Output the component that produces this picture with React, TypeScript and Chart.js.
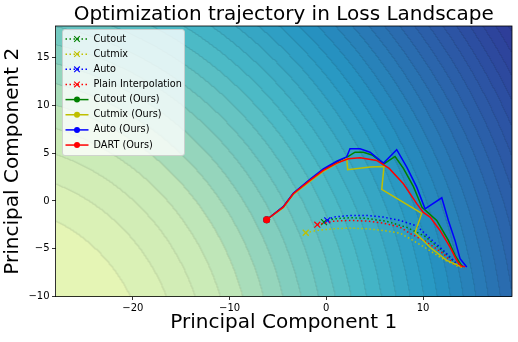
import React, { useEffect, useRef } from "react";
import { Chart, registerables } from "chart.js";

Chart.register(...registerables);

// ---------- data ----------
const TITLE = "Optimization trajectory in Loss Landscape";
const X_TITLE = "Principal Component 1";
const Y_TITLE = "Principal Component 2";
const X_TICKS = [-20, -10, 0, 10];
const Y_TICKS = [-10, -5, 0, 5, 10, 15];
const X_MIN = -28;
const X_MAX = 19.2;
const Y_MIN = -10;
const Y_MAX = 18.3;

const SERIES_LABELS = [
  "Cutout",
  "Cutmix",
  "Auto",
  "Plain Interpolation",
  "Cutout (Ours)",
  "Cutmix (Ours)",
  "Auto (Ours)",
  "DART (Ours)",
];
const SERIES_COLORS = ["#008000", "#bfbf00", "#0000ff", "#ff0000", "#008000", "#bfbf00", "#0000ff", "#ff0000"];

const cutoutPts = [
  [-0.24, -2.22], [0.72, -1.88], [2.45, -1.76], [4.18, -1.83], [6.25, -2.14], [8.32, -2.77],
  [10.21, -3.71], [12.07, -5.28], [13.42, -6.54], [14.14, -6.9],
];
const cutmixPts = [
  [-2.13, -3.33], [-0.99, -3.09], [0.72, -2.91], [2.45, -2.85], [4.18, -2.91], [5.9, -3.09],
  [7.62, -3.37], [8.66, -3.95], [10.39, -5.0], [12.1, -6.1], [13.49, -6.8], [14.17, -6.99],
];
const autoPts = [
  [0.1, -2.04], [0.72, -1.69], [2.45, -1.52], [4.18, -1.52], [5.9, -1.69], [7.62, -2.04],
  [9.35, -2.62], [10.39, -3.61], [12.1, -5.18], [13.49, -6.57], [14.35, -6.92],
];
const plainPts = [
  [-0.93, -2.49], [0.72, -2.12], [2.45, -2.04], [4.18, -2.11], [5.9, -2.32], [7.62, -2.74],
  [8.66, -3.4], [10.39, -4.31], [12.1, -5.52], [13.14, -6.57], [14.0, -6.92],
];
const cutoutOursPts = [
  [-6.17, -1.97], [-4.45, -0.62], [-3.41, 0.78], [-1.69, 2.2], [-0.31, 3.25], [1.08, 4.05],
  [2.1, 4.55], [2.97, 5.1], [3.83, 5.1], [4.73, 4.81], [5.97, 3.89], [7.11, 4.65], [7.97, 3.4],
  [9.0, 1.52], [9.9, -0.68], [11.42, -2.04], [12.62, -4.13], [13.31, -5.7], [14.04, -6.85],
];
const cutmixOursPts = [
  [-6.17, -1.97], [-4.45, -0.7], [-3.41, 0.68], [-1.69, 2.05], [-0.31, 3.1], [1.08, 3.9],
  [2.11, 4.45], [2.21, 3.26], [4.52, 3.56], [5.97, 3.61], [5.73, 1.2], [9.87, -1.31],
  [9.18, -3.3], [10.9, -5.0], [12.45, -6.22], [14.04, -6.92],
];
const autoOursPts = [
  [-6.17, -1.97], [-4.45, -0.6], [-3.41, 0.8], [-1.69, 2.25], [-0.31, 3.35], [1.08, 4.15],
  [2.1, 4.6], [2.45, 5.46], [3.49, 5.46], [4.52, 5.1], [5.9, 3.95], [7.28, 5.36], [8.32, 3.54],
  [9.35, 1.44], [10.21, -0.82], [11.94, 0.33], [12.62, -2.04], [13.31, -4.13], [13.83, -6.05],
  [14.52, -6.92],
];
const dartOursPts = [
  [-6.17, -1.97], [-4.45, -0.65], [-3.41, 0.75], [-1.69, 2.14], [-0.31, 3.19], [1.08, 3.95],
  [2.28, 4.41], [3.49, 4.52], [5.21, 4.24], [6.5, 3.4], [7.97, 1.8], [9.35, -0.29],
  [10.03, -1.2], [10.73, -1.69], [11.76, -3.09], [12.79, -4.83], [13.49, -6.22], [13.9, -6.8],
  [14.35, -6.9],
];
const SERIES_POINTS = [cutoutPts, cutmixPts, autoPts, plainPts, cutoutOursPts, cutmixOursPts, autoOursPts, dartOursPts];

// ---------- landscape (background) ----------
const LAND_CENTER = [-35, -18];
const LAND_YSCALE = 0.95;
const LAND_BAND_POWER = 1.6;
const LAND_STEP = 0.032;
const LAND_COLOR_T = [0, 0.29, 0.42, 0.7, 1];
const LAND_COLOR_V = [0.12, 0.26, 0.39, 0.64, 0.88];
const YLGNBU = [
  [255, 255, 217], [237, 248, 177], [199, 233, 180], [127, 205, 187], [65, 182, 196],
  [29, 145, 192], [34, 94, 168], [37, 52, 148], [8, 29, 88],
];

function cmap(v: number) {
  const t = Math.max(0, Math.min(1, v)) * 8;
  const i = Math.min(7, Math.floor(t));
  const f = t - i;
  const a = YLGNBU[i], b = YLGNBU[i + 1];
  const w = 0.04;
  return [
    (a[0] + (b[0] - a[0]) * f) * (1 - w) + 255 * w,
    (a[1] + (b[1] - a[1]) * f) * (1 - w) + 255 * w,
    (a[2] + (b[2] - a[2]) * f) * (1 - w) + 255 * w,
  ];
}
function colorValue(t: number) {
  const tt = Math.max(0, Math.min(1, t));
  for (let i = 0; i < LAND_COLOR_T.length - 1; i++) {
    if (tt <= LAND_COLOR_T[i + 1]) {
      const f = (tt - LAND_COLOR_T[i]) / (LAND_COLOR_T[i + 1] - LAND_COLOR_T[i]);
      return LAND_COLOR_V[i] + (LAND_COLOR_V[i + 1] - LAND_COLOR_V[i]) * f;
    }
  }
  return LAND_COLOR_V[LAND_COLOR_V.length - 1];
}
function landDist(x: number, y: number) {
  const dx = x - LAND_CENTER[0];
  const dy = (y - LAND_CENTER[1]) * LAND_YSCALE;
  return Math.sqrt(dx * dx + dy * dy);
}

const landscapePlugin = {
  id: "landscape",
  beforeDatasetsDraw(chart: any) {
    const { left, top, right, bottom } = chart.chartArea;
    const xs = chart.scales.x, ys = chart.scales.y;
    const w = Math.ceil(right - left), h = Math.ceil(bottom - top);
    const dmin = landDist(X_MIN, Y_MIN);
    const dmax = landDist(X_MAX, Y_MAX);
    const band = new Int32Array(w * h);
    for (let j = 0; j < h; j++) {
      const y = ys.getValueForPixel(top + j + 0.5);
      for (let i = 0; i < w; i++) {
        const x = xs.getValueForPixel(left + i + 0.5);
        const t = Math.max(0, (landDist(x, y) - dmin) / (dmax - dmin));
        band[j * w + i] = Math.floor(Math.pow(t, LAND_BAND_POWER) / LAND_STEP);
      }
    }
    const off = document.createElement("canvas");
    off.width = w; off.height = h;
    const octx = off.getContext("2d")!;
    const img = octx.createImageData(w, h);
    const cache: Record<number, number[]> = {};
    for (let j = 0; j < h; j++) {
      for (let i = 0; i < w; i++) {
        const b = band[j * w + i];
        if (!cache[b]) {
          const tm = Math.pow((b + 0.5) * LAND_STEP, 1 / LAND_BAND_POWER);
          cache[b] = cmap(colorValue(tm));
        }
        const c = cache[b];
        const edge = (i + 1 < w && band[j * w + i + 1] !== b) || (j + 1 < h && band[(j + 1) * w + i] !== b);
        const k = edge ? 0.91 : 1;
        const p = (j * w + i) * 4;
        img.data[p] = c[0] * k; img.data[p + 1] = c[1] * k; img.data[p + 2] = c[2] * k; img.data[p + 3] = 255;
      }
    }
    octx.putImageData(img, 0, 0);
    const ctx = chart.ctx;
    ctx.save();
    ctx.drawImage(off, left, top, right - left, bottom - top);
    ctx.restore();
  },
  afterDatasetsDraw(chart: any) {
    const { left, top, right, bottom } = chart.chartArea;
    const ctx = chart.ctx;
    ctx.save();
    ctx.strokeStyle = "#000";
    ctx.lineWidth = 0.8;
    ctx.strokeRect(left, top, right - left, bottom - top);
    ctx.fillStyle = "#000";
    ctx.font = "20px 'DejaVu Sans'";
    ctx.textAlign = "center";
    ctx.textBaseline = "alphabetic";
    ctx.fillText(TITLE, (left + right) / 2, 20);
    ctx.restore();
  },
};

const legendPlugin = {
  id: "boxLegend",
  afterDraw(chart: any) {
    const ctx = chart.ctx;
    const { left, top } = chart.chartArea;
    const bx = left + 7, by = top + 3.5, bw = 122, bh = 126;
    ctx.save();
    ctx.beginPath();
    const r = 2.5;
    ctx.moveTo(bx + r, by);
    ctx.arcTo(bx + bw, by, bx + bw, by + bh, r);
    ctx.arcTo(bx + bw, by + bh, bx, by + bh, r);
    ctx.arcTo(bx, by + bh, bx, by, r);
    ctx.arcTo(bx, by, bx + bw, by, r);
    ctx.closePath();
    ctx.fillStyle = "rgba(255,255,255,0.8)";
    ctx.fill();
    ctx.strokeStyle = "rgba(204,204,204,0.8)";
    ctx.lineWidth = 1;
    ctx.stroke();
    chart.data.datasets.forEach((ds: any, i: number) => {
      const yy = by + 9.5 + i * 15.15;
      const x0 = bx + 3, x1 = bx + 26, xm = (x0 + x1) / 2;
      ctx.strokeStyle = ds.borderColor;
      ctx.lineWidth = 1.5;
      ctx.setLineDash(ds.borderDash || []);
      ctx.beginPath();
      ctx.moveTo(x0, yy);
      ctx.lineTo(x1, yy);
      ctx.stroke();
      ctx.setLineDash([]);
      if (ds.pointStyle === "crossRot") {
        const s = 2.8;
        ctx.lineWidth = 1.1;
        ctx.beginPath();
        ctx.moveTo(xm - s, yy - s); ctx.lineTo(xm + s, yy + s);
        ctx.moveTo(xm - s, yy + s); ctx.lineTo(xm + s, yy - s);
        ctx.stroke();
      } else {
        ctx.fillStyle = ds.borderColor;
        ctx.beginPath();
        ctx.arc(xm, yy, 3, 0, Math.PI * 2);
        ctx.fill();
      }
      ctx.fillStyle = "#000";
      ctx.font = "9.7px 'DejaVu Sans'";
      ctx.textBaseline = "middle";
      ctx.textAlign = "left";
      ctx.fillText(ds.label, bx + 31, yy);
    });
    ctx.restore();
  },
};

const minus = (v: any) => String(v).replace("-", "\u2212");

export default function App() {
  const ref = useRef<HTMLCanvasElement | null>(null);
  useEffect(() => {
    document.body.style.margin = "0";
    const datasets = SERIES_POINTS.map((pts, i) => {
      const ours = i >= 4;
      return {
        label: SERIES_LABELS[i],
        data: pts.map(([x, y]) => ({ x, y })),
        borderColor: SERIES_COLORS[i],
        backgroundColor: SERIES_COLORS[i],
        borderWidth: 1.5,
        borderDash: ours ? [] : [1.5, 2.5],
        pointStyle: ours ? "circle" : "crossRot",
        pointRadius: pts.map((_, k) => (k === 0 ? (ours ? 3.5 : 4.2) : 0)),
        pointBorderWidth: ours ? 0 : 1.2,
        pointHoverRadius: 0,
        showLine: true,
        tension: 0,
        fill: false,
        order: 20 - i,
      };
    });
    const chart = new Chart(ref.current!, {
      type: "scatter",
      data: { datasets: datasets as any },
      options: {
        animation: false,
        responsive: false,
        devicePixelRatio: 1,
        layout: { padding: { top: 26, right: 6, left: 0, bottom: 0 } },
        plugins: {
          legend: { display: false },
          tooltip: { enabled: false },
          title: { display: false },
        },
        scales: {
          x: {
            type: "linear",
            min: X_MIN,
            max: X_MAX,
            afterBuildTicks: (s: any) => { s.ticks = X_TICKS.map((value) => ({ value })); },
            afterFit: (s: any) => { s.height = 45.5; },
            grid: { display: true, drawOnChartArea: false, drawTicks: true, tickLength: 3.5, color: "#000", lineWidth: 0.8 },
            border: { display: false },
            ticks: { color: "#000", font: { family: "DejaVu Sans", size: 10 }, padding: 2, maxRotation: 0, callback: minus },
            title: {
              display: true,
              text: X_TITLE,
              color: "#000",
              font: { family: "DejaVu Sans", size: 20 },
              padding: { top: 0, bottom: 7.5 },
            },
          },
          y: {
            type: "linear",
            min: Y_MIN,
            max: Y_MAX,
            afterBuildTicks: (s: any) => { s.ticks = Y_TICKS.map((value) => ({ value })); },
            afterFit: (s: any) => { s.width = 55.5; },
            grid: { display: true, drawOnChartArea: false, drawTicks: true, tickLength: 3.5, color: "#000", lineWidth: 0.8 },
            border: { display: false },
            ticks: { color: "#000", font: { family: "DejaVu Sans", size: 10 }, padding: 2.5, callback: minus },
            title: {
              display: true,
              text: Y_TITLE,
              color: "#000",
              font: { family: "DejaVu Sans", size: 20 },
              padding: { top: 1, bottom: 0 },
            },
          },
        },
      },
      plugins: [landscapePlugin, legendPlugin],
    });
    return () => chart.destroy();
  }, []);
  return (
    <div style={{ width: 518, height: 342 }}>
      <canvas ref={ref} width={518} height={342} />
    </div>
  );
}
